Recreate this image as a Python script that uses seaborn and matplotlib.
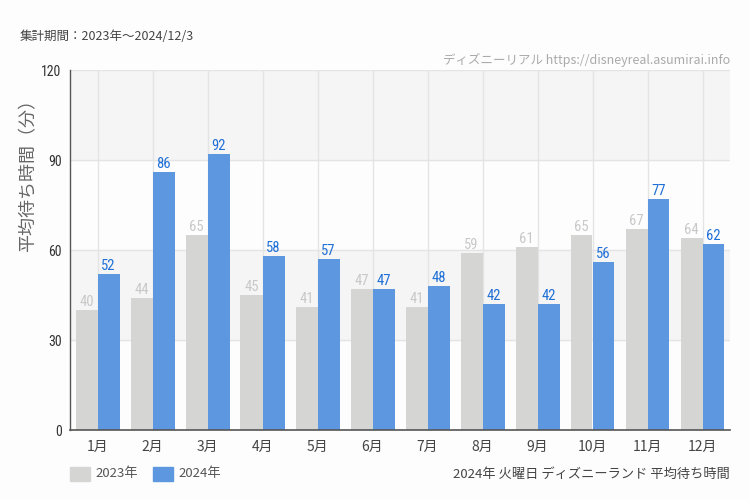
import matplotlib
matplotlib.use("Agg")
import matplotlib.pyplot as plt
import seaborn as sns
import pandas as pd

months = ["1月", "2月", "3月", "4月", "5月", "6月", "7月", "8月", "9月", "10月", "11月", "12月"]
wait_2023 = [40, 44, 65, 45, 41, 47, 41, 59, 61, 65, 67, 64]
wait_2024 = [52, 86, 92, 58, 57, 47, 48, 42, 42, 56, 77, 62]
years = ["2023年", "2024年"]
y_ticks = [0, 30, 60, 90, 120]

df = pd.DataFrame({
    "month": months * 2,
    "year": [years[0]] * len(months) + [years[1]] * len(months),
    "wait": wait_2023 + wait_2024,
})

sns.set_style("white")
jp = ["Noto Sans CJK JP", "DejaVu Sans"]
narrow = ["Roboto Condensed", "Liberation Sans Narrow", "Roboto", "DejaVu Sans"]
plt.rcParams["font.family"] = jp

bg = "#fcfdfc"
gray = "#d5d6d4"
blue = "#5c97e0"

fig = plt.figure(figsize=(7.5, 5), dpi=100, facecolor=bg)
ax = fig.add_axes([70 / 750, 70 / 500, 660 / 750, 360 / 500])
ax.set_facecolor(bg)

# alternating horizontal bands
for lo in [30, 90]:
    ax.axhspan(lo, lo + 30, color="#f4f5f4", zorder=0)
for y in y_ticks[1:]:
    ax.axhline(y, color="#e4e4e4", lw=1, zorder=0.5)

sns.barplot(data=df, x="month", y="wait", hue="year", palette=[gray, blue],
            width=0.8, saturation=1, linewidth=0, ax=ax, zorder=2, legend=False)

for i in range(len(months)):
    ax.axvline(i, color="#e4e4e4", lw=1, zorder=1)

label_colors = ["#c8c8c8", "#1f6fd8"]
for cont, col in zip(ax.containers, label_colors):
    ax.bar_label(cont, fmt="%d", padding=1, color=col, fontsize=10.5, family=narrow)

ax.set_ylim(0, 120)
ax.set_xlim(-0.5, 11.5)
ax.set_yticks(y_ticks)
ax.set_yticklabels([str(v) for v in y_ticks], fontsize=10, color="#333333", family=narrow)
ax.tick_params(axis="y", length=4, color="#333333", pad=2)
ax.tick_params(axis="x", length=4, color="#333333", pad=3, labelsize=10, labelcolor="#444444")
ax.set_xlabel("")
ax.set_ylabel("平均待ち時間（分）", fontsize=13, color="#666666")
ax.yaxis.set_label_coords(-0.05, 0.72)

for s in ["top", "right"]:
    ax.spines[s].set_visible(False)
ax.spines["left"].set_color("#555555")
ax.spines["bottom"].set_color("#555555")
ax.spines["left"].set_linewidth(1)
ax.spines["bottom"].set_linewidth(1.2)

fig.text(20 / 750, 1 - 37 / 500, "集計期間：2023年～2024/12/3", fontsize=9,
         color="#444444", va="center")
fig.text(730 / 750, 1 - 60 / 500, "ディズニーリアル https://disneyreal.asumirai.info",
         fontsize=9, color="#aaaaaa", ha="right", va="center")
fig.text(730 / 750, 1 - 474 / 500, "2024年 火曜日 ディズニーランド 平均待ち時間",
         fontsize=9.5, color="#444444", ha="right", va="center")

# legend
for x0, col, name in [(70, gray, years[0]), (153, blue, years[1])]:
    fig.patches.append(plt.Rectangle((x0 / 750, 1 - 481 / 500), 20 / 750, 14 / 500,
                                     transform=fig.transFigure, color=col, figure=fig))
    fig.text((x0 + 25) / 750, 1 - 474 / 500, name, fontsize=9.5, color="#555555",
             va="center")

fig.savefig("out.png", dpi=100, facecolor=bg)
